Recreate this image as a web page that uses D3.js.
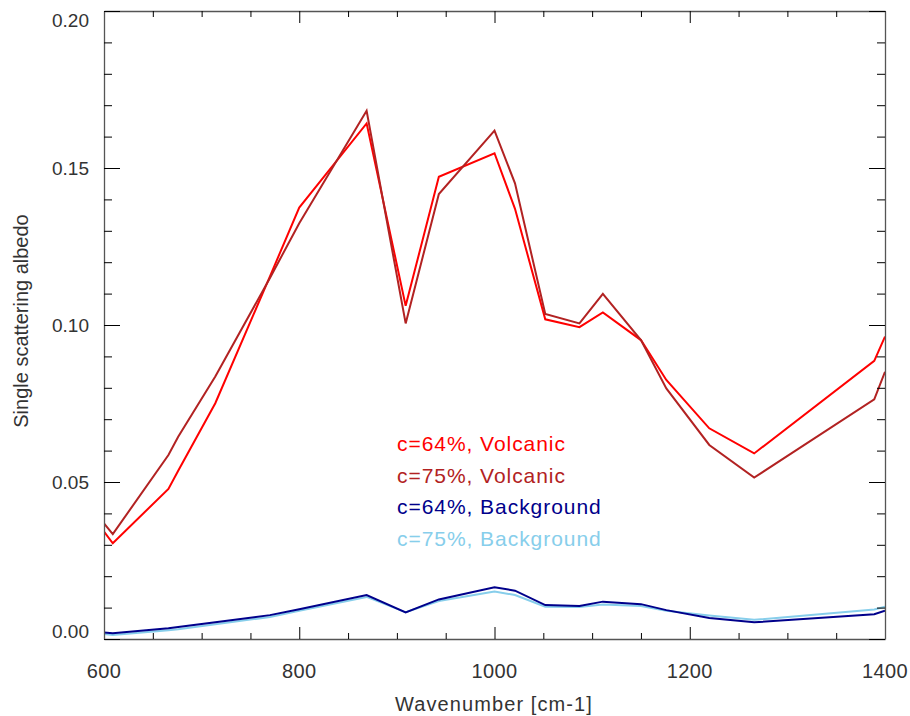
<!DOCTYPE html>
<html>
<head>
<meta charset="utf-8">
<script src="https://cdn.jsdelivr.net/npm/d3@7"></script>
<style>
html,body{margin:0;padding:0;background:#fff;}
svg{display:block;font-family:"Liberation Sans",Arial,Helvetica,sans-serif;}
</style>
</head>
<body>
<svg id="chart" width="910" height="716"></svg>
<script>
const wavenumber = [600, 609, 666, 676, 714, 770, 800, 869, 909, 943, 1000, 1021, 1052, 1087, 1111, 1150, 1176, 1220, 1266, 1389, 1400];
const volcanic64 = [0.0342, 0.0305, 0.0478, 0.0536, 0.0751, 0.1155, 0.1374, 0.1642, 0.1061, 0.1472, 0.1547, 0.1370, 0.1018, 0.0993, 0.1040, 0.0952, 0.0825, 0.0671, 0.0591, 0.0886, 0.0963];
const volcanic75 = [0.0368, 0.0334, 0.0586, 0.0644, 0.0836, 0.1150, 0.1324, 0.1682, 0.1005, 0.1417, 0.1619, 0.1451, 0.1035, 0.1005, 0.1099, 0.0952, 0.0798, 0.0618, 0.0514, 0.0763, 0.0851];
const background64 = [0.0021, 0.0018, 0.0034, 0.0038, 0.0053, 0.0076, 0.0095, 0.0140, 0.0085, 0.0126, 0.0165, 0.0154, 0.0108, 0.0105, 0.0119, 0.0111, 0.0092, 0.0067, 0.0053, 0.0079, 0.0090];
const background75 = [0.0016, 0.0013, 0.0028, 0.0031, 0.0047, 0.0070, 0.0090, 0.0134, 0.0085, 0.0121, 0.0151, 0.0140, 0.0103, 0.0102, 0.0110, 0.0105, 0.0090, 0.0075, 0.0061, 0.0094, 0.0103];
const seriesNames = ["c=64%, Volcanic", "c=75%, Volcanic", "c=64%, Background", "c=75%, Background"];
const seriesColors = ["#ff0000", "#b22222", "#00008b", "#87ceeb"];
const xTickLabels = ["600", "800", "1000", "1200", "1400"];
const yTickLabels = ["0.00", "0.05", "0.10", "0.15", "0.20"];

const svg = d3.select("#chart");
const L = 104, R = 885, T = 11, B = 639;
const x = d3.scaleLinear().domain([600, 1400]).range([L, R]);
const y = d3.scaleLinear().domain([0, 0.2]).range([B, T]);

svg.append("defs").append("clipPath").attr("id", "clip")
  .append("rect").attr("x", L).attr("y", T).attr("width", R - L).attr("height", B - T);

const allSeries = [volcanic64, volcanic75, background64, background75];
const line = d3.line().x(d => x(d[0])).y(d => y(d[1]));
const order = [3, 2, 0, 1];
order.forEach(i => {
  svg.append("path")
    .datum(wavenumber.map((w, k) => [w, allSeries[i][k]]))
    .attr("clip-path", "url(#clip)")
    .attr("fill", "none")
    .attr("stroke", seriesColors[i])
    .attr("stroke-width", 2)
    .attr("stroke-linejoin", "miter")
    .attr("d", line);
});

const xMajor = [600, 800, 1000, 1200, 1400];
const xAll = d3.range(600, 1401, 50);
const yMajor = [0, 0.05, 0.10, 0.15, 0.20];
const yAll = d3.range(0, 21).map(d => d / 100);

const gB = svg.append("g").attr("transform", `translate(0,${B})`).call(d3.axisBottom(x).tickValues(xAll).tickSize(0).tickFormat(""));
const gT = svg.append("g").attr("transform", `translate(0,${T})`).call(d3.axisTop(x).tickValues(xAll).tickSize(0).tickFormat(""));
const gL = svg.append("g").attr("transform", `translate(${L},0)`).call(d3.axisLeft(y).tickValues(yAll).tickSize(0).tickFormat(""));
const gR = svg.append("g").attr("transform", `translate(${R},0)`).call(d3.axisRight(y).tickValues(yAll).tickSize(0).tickFormat(""));
[gB, gT, gL, gR].forEach(g => { g.select(".domain").attr("stroke", "#555").attr("stroke-width", 1.3); g.selectAll(".tick line").remove(); });

const isMajX = v => xMajor.some(m => Math.abs(m - v) < 1e-6);
const isMajY = v => yMajor.some(m => Math.abs(m - v) < 1e-9);
gB.selectAll(".tick").append("line").attr("y1", 0).attr("y2", d => isMajX(d) ? -12 : -6).attr("stroke", "#000");
gT.selectAll(".tick").append("line").attr("y1", 0).attr("y2", d => isMajX(d) ? 12 : 6).attr("stroke", "#000");
gL.selectAll(".tick").append("line").attr("x1", 0).attr("x2", d => isMajY(d) ? 16 : 8).attr("stroke", "#000");
gR.selectAll(".tick").append("line").attr("x1", 0).attr("x2", d => isMajY(d) ? -16 : -8).attr("stroke", "#000");

const txtColor = "#333";
xMajor.forEach((v, i) => {
  svg.append("text").attr("x", x(v)).attr("y", 678).attr("text-anchor", "middle")
    .attr("font-size", 20).attr("letter-spacing", 0.4).attr("fill", txtColor).text(xTickLabels[i]);
});
yMajor.forEach((v, i) => {
  let yy = y(v) + 7;
  if (i === 0) yy = 638;
  if (i === yMajor.length - 1) yy = 27;
  svg.append("text").attr("x", 89).attr("y", yy).attr("text-anchor", "end")
    .attr("font-size", 19).attr("fill", txtColor).text(yTickLabels[i]);
});

svg.append("text").attr("x", 494).attr("y", 711).attr("text-anchor", "middle")
  .attr("font-size", 20).attr("letter-spacing", 1.1).attr("fill", txtColor).text("Wavenumber [cm-1]");
svg.append("text").attr("transform", "translate(28,321) rotate(-90)").attr("text-anchor", "middle")
  .attr("font-size", 20).attr("fill", txtColor).text("Single scattering albedo");

seriesNames.forEach((n, i) => {
  svg.append("text").attr("x", 397).attr("y", 451 + i * 31.7)
    .attr("font-size", 21).attr("letter-spacing", 0.95).attr("fill", seriesColors[i]).text(n);
});
</script>
</body>
</html>
